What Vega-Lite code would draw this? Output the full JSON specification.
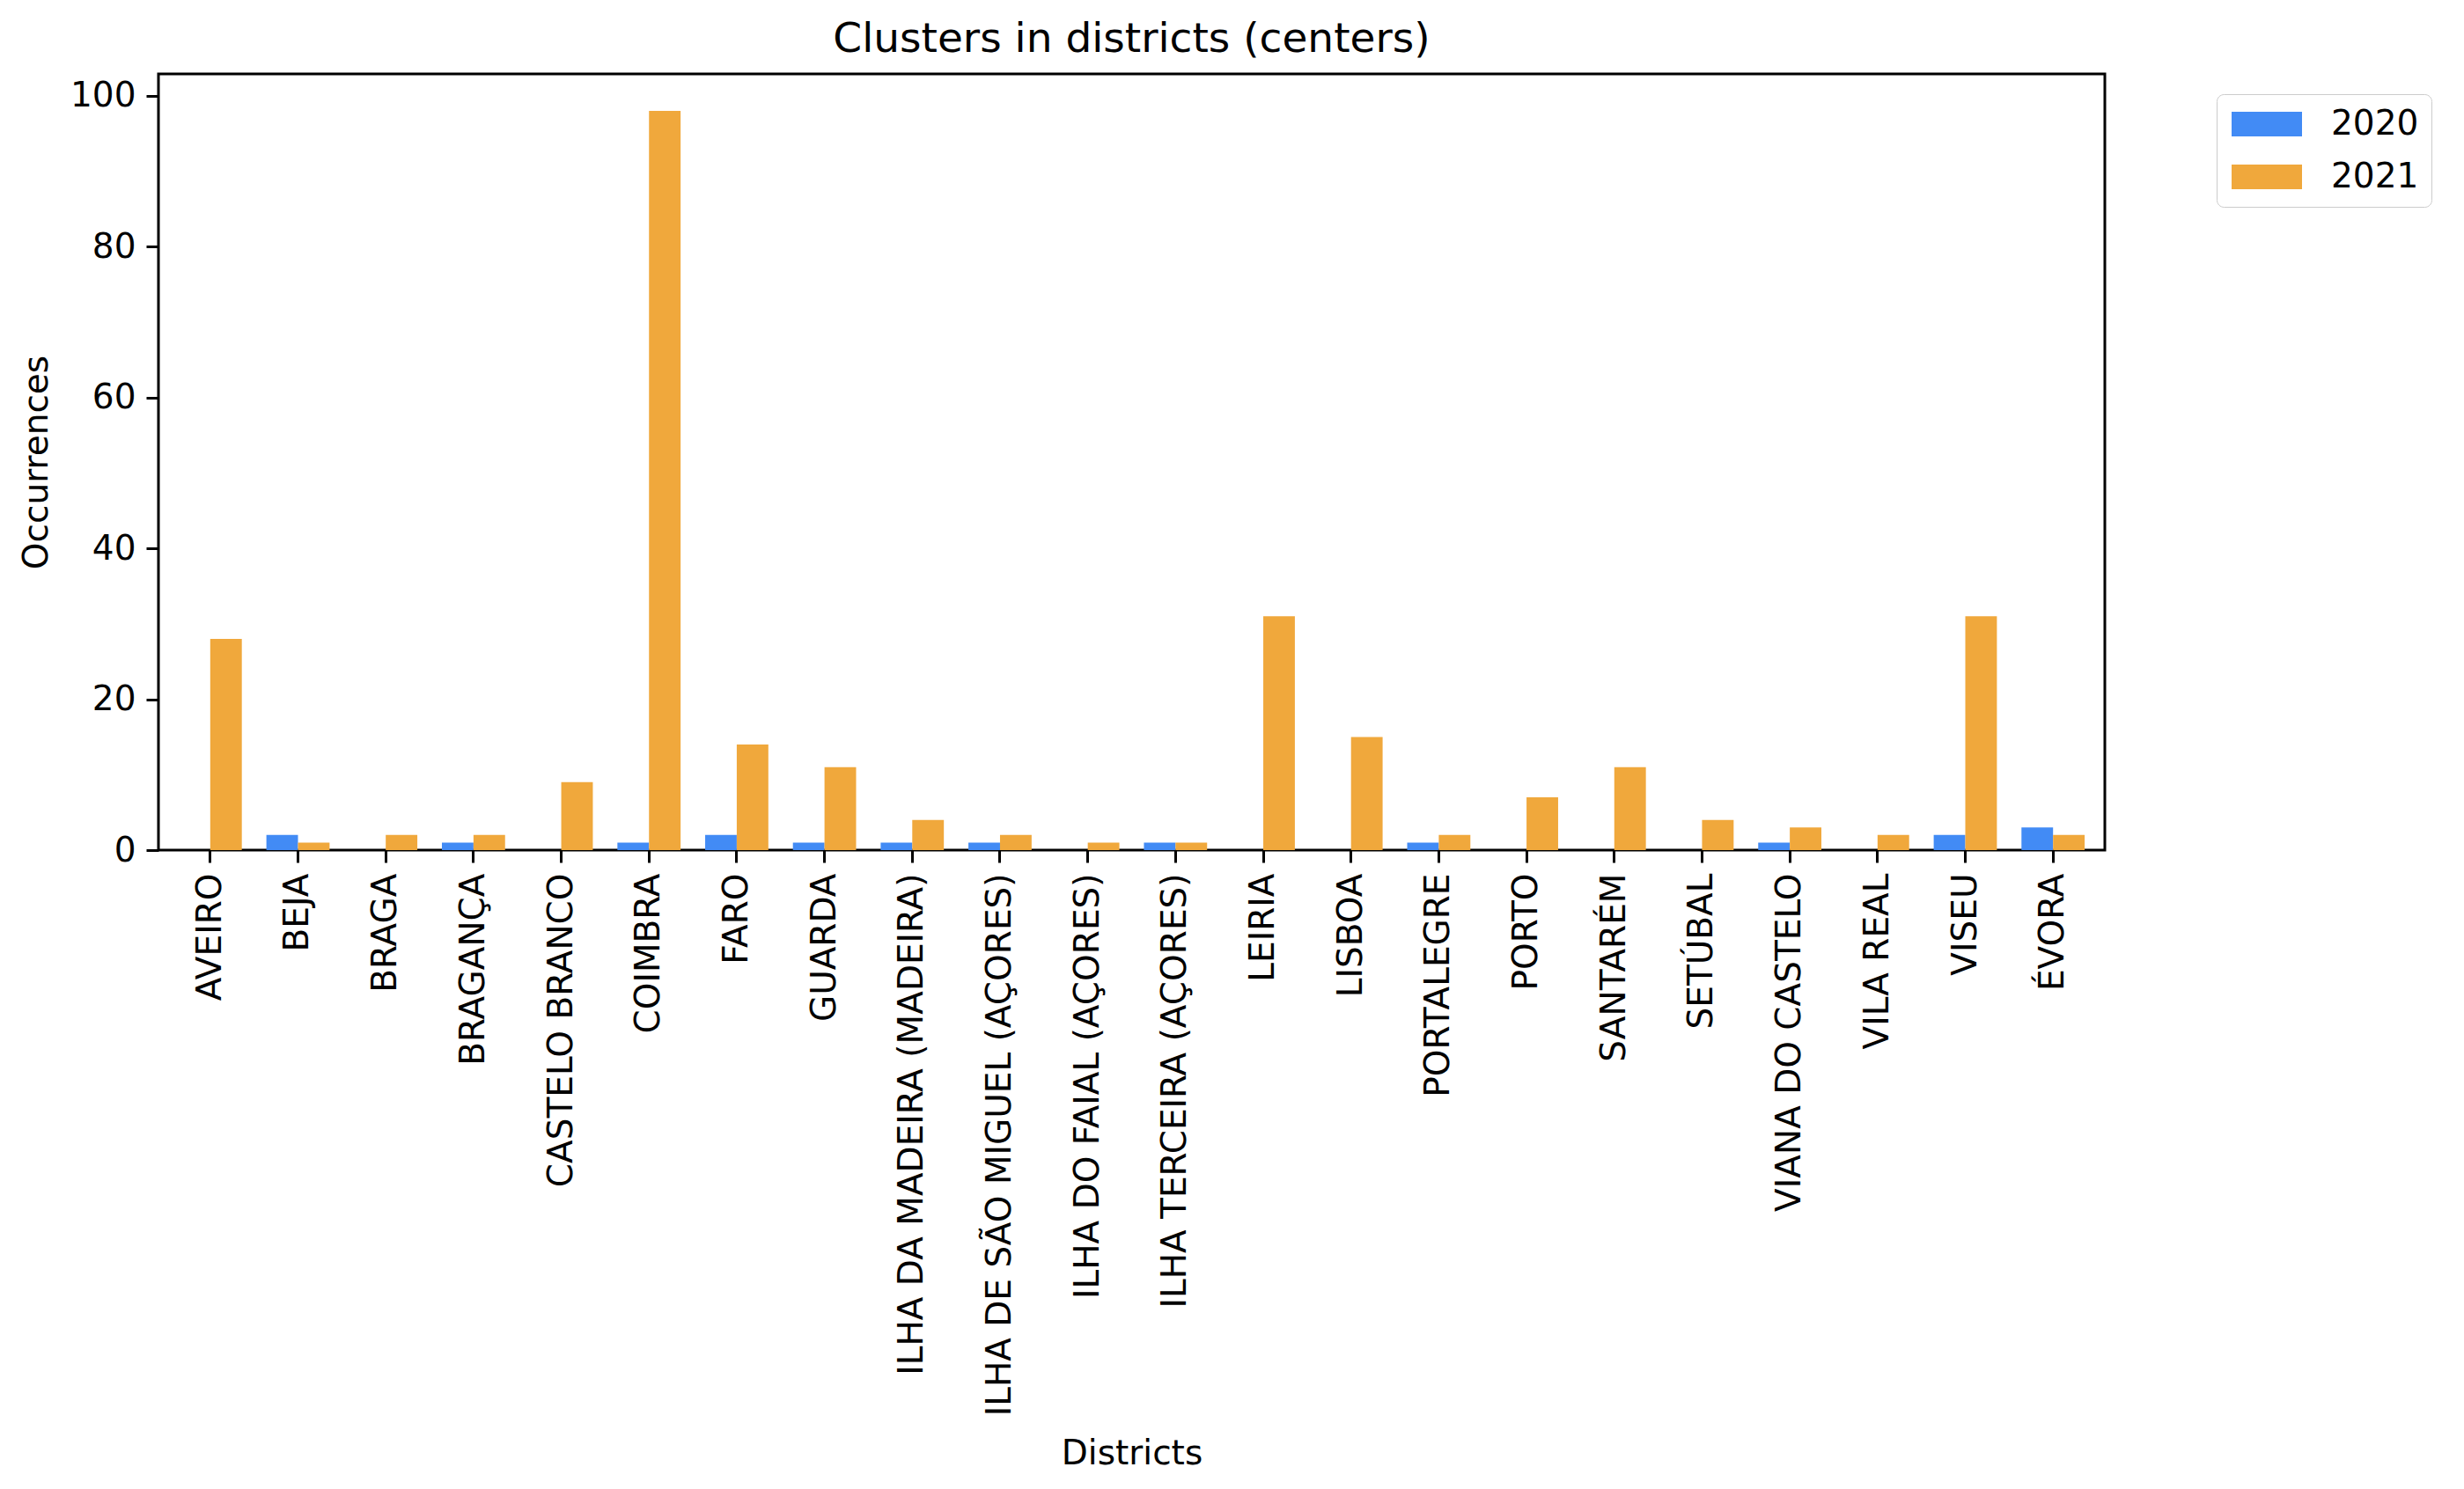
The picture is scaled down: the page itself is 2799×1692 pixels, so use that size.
{
  "$schema": "https://vega.github.io/schema/vega-lite/v6.json",
  "width": 2211,
  "height": 882,
  "autosize": {"type": "none"},
  "padding": {"left": 180, "top": 84, "right": 408, "bottom": 726},
  "background": "white",
  "title": {"text": "Clusters in districts (centers)", "font": "DejaVu Sans", "fontSize": 47, "fontWeight": "normal", "color": "#000", "offset": 15, "anchor": "middle"},
  "config": {
    "view": {"stroke": "#000", "strokeWidth": 3},
    "axis": {"labelFont": "DejaVu Sans", "titleFont": "DejaVu Sans", "labelFontSize": 39, "titleFontSize": 39, "titleFontWeight": "normal", "labelColor": "#000", "titleColor": "#000", "tickColor": "#000", "tickWidth": 3, "tickSize": 14, "labelPadding": 12, "domain": false, "grid": false},
    "legend": {"strokeColor": "#cccccc", "cornerRadius": 8, "fillColor": "white", "padding": 14}
  },
  "data": {"values": [
    {"district": "AVEIRO", "year": "2020", "n": 0}, {"district": "AVEIRO", "year": "2021", "n": 28},
    {"district": "BEJA", "year": "2020", "n": 2}, {"district": "BEJA", "year": "2021", "n": 1},
    {"district": "BRAGA", "year": "2020", "n": 0}, {"district": "BRAGA", "year": "2021", "n": 2},
    {"district": "BRAGANÇA", "year": "2020", "n": 1}, {"district": "BRAGANÇA", "year": "2021", "n": 2},
    {"district": "CASTELO BRANCO", "year": "2020", "n": 0}, {"district": "CASTELO BRANCO", "year": "2021", "n": 9},
    {"district": "COIMBRA", "year": "2020", "n": 1}, {"district": "COIMBRA", "year": "2021", "n": 98},
    {"district": "FARO", "year": "2020", "n": 2}, {"district": "FARO", "year": "2021", "n": 14},
    {"district": "GUARDA", "year": "2020", "n": 1}, {"district": "GUARDA", "year": "2021", "n": 11},
    {"district": "ILHA DA MADEIRA (MADEIRA)", "year": "2020", "n": 1}, {"district": "ILHA DA MADEIRA (MADEIRA)", "year": "2021", "n": 4},
    {"district": "ILHA DE SÃO MIGUEL (AÇORES)", "year": "2020", "n": 1}, {"district": "ILHA DE SÃO MIGUEL (AÇORES)", "year": "2021", "n": 2},
    {"district": "ILHA DO FAIAL (AÇORES)", "year": "2020", "n": 0}, {"district": "ILHA DO FAIAL (AÇORES)", "year": "2021", "n": 1},
    {"district": "ILHA TERCEIRA (AÇORES)", "year": "2020", "n": 1}, {"district": "ILHA TERCEIRA (AÇORES)", "year": "2021", "n": 1},
    {"district": "LEIRIA", "year": "2020", "n": 0}, {"district": "LEIRIA", "year": "2021", "n": 31},
    {"district": "LISBOA", "year": "2020", "n": 0}, {"district": "LISBOA", "year": "2021", "n": 15},
    {"district": "PORTALEGRE", "year": "2020", "n": 1}, {"district": "PORTALEGRE", "year": "2021", "n": 2},
    {"district": "PORTO", "year": "2020", "n": 0}, {"district": "PORTO", "year": "2021", "n": 7},
    {"district": "SANTARÉM", "year": "2020", "n": 0}, {"district": "SANTARÉM", "year": "2021", "n": 11},
    {"district": "SETÚBAL", "year": "2020", "n": 0}, {"district": "SETÚBAL", "year": "2021", "n": 4},
    {"district": "VIANA DO CASTELO", "year": "2020", "n": 1}, {"district": "VIANA DO CASTELO", "year": "2021", "n": 3},
    {"district": "VILA REAL", "year": "2020", "n": 0}, {"district": "VILA REAL", "year": "2021", "n": 2},
    {"district": "VISEU", "year": "2020", "n": 2}, {"district": "VISEU", "year": "2021", "n": 31},
    {"district": "ÉVORA", "year": "2020", "n": 3}, {"district": "ÉVORA", "year": "2021", "n": 2}
  ]},
  "mark": {"type": "bar", "opacity": 1},
  "encoding": {
    "x": {"field": "district", "type": "nominal", "sort": null, "title": "Districts",
      "scale": {"paddingInner": 0.28, "paddingOuter": 0.23},
      "axis": {"labelAngle": -90, "titleY": 666, "labelLimit": 1000}},
    "xOffset": {"field": "year", "type": "nominal", "scale": {"paddingInner": 0, "paddingOuter": 0}},
    "y": {"field": "n", "type": "quantitative", "title": "Occurrences",
      "scale": {"domain": [0, 102.9], "nice": false, "zero": true},
      "axis": {"values": [0, 20, 40, 60, 80, 100], "titlePadding": 18}},
    "color": {"field": "year", "type": "nominal",
      "scale": {"domain": ["2020", "2021"], "range": ["#428bf5", "#f0a83c"]},
      "legend": {"title": null, "orient": "none", "legendX": 2338, "legendY": 23,
        "symbolType": "M-0.85,-0.7L3.15,-0.7L3.15,0.7L-0.85,0.7Z", "symbolSize": 1600, "symbolStrokeWidth": 0,
        "labelFont": "DejaVu Sans", "labelFontSize": 39, "labelColor": "#000", "labelOffset": 76,
        "rowPadding": 20}}
  }
}
